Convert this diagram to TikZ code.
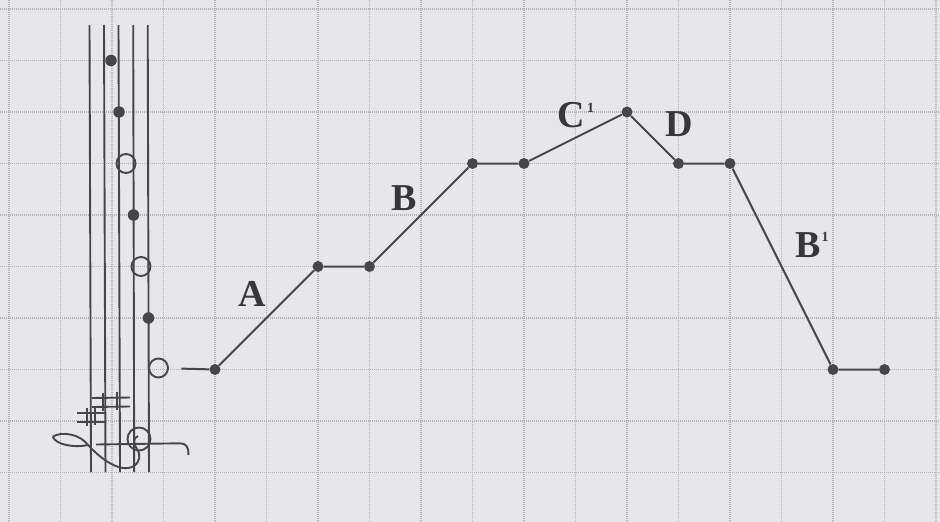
\documentclass[tikz,border=0pt]{standalone}
\usepackage{fontspec}
\setmainfont{Liberation Serif}
\definecolor{bg}{RGB}{231,231,233}
\definecolor{gridc}{RGB}{178,178,182}
\definecolor{ink}{RGB}{70,70,72}
\definecolor{txt}{RGB}{55,55,57}
\begin{document}
\begin{tikzpicture}[x=1pt,y=-1pt,
  gridline/.style={gridc, line width=1.1pt, dash pattern=on 1.2pt off 0.8pt},
  staffline/.style={ink, line width=1.9pt},
  dot/.style={circle, fill=ink, inner sep=0pt, minimum size=11pt},
  fullnote/.style={circle, fill=ink, inner sep=0pt, minimum size=11.5pt},
  opennote/.style={circle, draw=ink, line width=1.9pt, inner sep=0pt, minimum size=19pt},
  seg/.style={ink, line width=2pt},
  lab/.style={text=txt, font=\bfseries\fontsize{38}{38}\selectfont, inner sep=0pt},
  suplab/.style={font=\bfseries\fontsize{14}{14}\selectfont},
  clefline/.style={ink, line width=1.9pt},
  sharpbar/.style={ink, line width=2.8pt}]

\useasboundingbox (0,0) rectangle (940,522);
\fill[bg] (0,0) rectangle (940,522);

% grid
\foreach \i in {0,...,18} \draw[gridline] ({9+51.5*\i},0) -- ({9+51.5*\i},522);
\foreach \j in {0,...,9} \draw[gridline] (0,{9+51.5*\j}) -- (940,{9+51.5*\j});

% staff
\foreach \a/\b in {89.5/91, 104/105.5, 118.5/120, 133.2/134.2, 147.7/149}
  \draw[staffline] (\a,25) -- (\b,472);

% notes
\node[fullnote] (n1) at (111,60.5) {};
\node[fullnote] (n2) at (119,112) {};
\node[opennote] (n3) at (126,163.5) {};
\node[fullnote] (n4) at (133.5,215) {};
\node[opennote] (n5) at (141,266.5) {};
\node[fullnote] (n6) at (148.5,318) {};
\node[opennote] (n7) at (158.5,368) {};

% sharps
\draw[clefline] (92,398) -- (130,397.5) (92,407) -- (130,406.5);
\draw[sharpbar] (103,393) -- (103,411) (117,392) -- (117,410);
\draw[clefline] (77,413) -- (105,413) (77,422) -- (105,422);
\draw[sharpbar] (87,408) -- (87,426) (95,407) -- (95,425);

% treble clef (sideways)
\draw[clefline] (52.7,436.7) .. controls (62,431) and (80,434) .. (88,445)
  .. controls (100,458) and (120,474) .. (134,466)
  .. controls (140,462) and (141,454) .. (137,449);
\draw[clefline] (52.7,436.7) .. controls (56,445) and (75,448) .. (88,445);
\draw[clefline] (139,439) circle (11.5pt);
\draw[clefline] (137,449) .. controls (133,444) and (133,438) .. (138,436);
\draw[clefline] (96,444.5) -- (180,443.3) .. controls (186,443.3) and (189,447) .. (188.3,455);

% melody points
\foreach \n/\c/\r in {p1/4/7, p2/6/5, p3/7/5, p4/9/3, p5/10/3, p6/12/2, p7/13/3, p8/14/3, p9/16/7, p10/17/7}
  \node[dot] (\n) at ({9+51.5*\c},{9+51.5*\r}) {};

\draw[seg, shorten <=12.5pt] (n7) -- (p1);
\draw[seg] (p1) -- (p2) -- (p3) -- (p4) -- (p5) -- (p6) -- (p7) -- (p8) -- (p9) -- (p10);

% labels
\node[lab] (la) at (252.5,294) {A};
\node[lab] (lb) at (404,198) {B};
\node[lab] (lc) at (571.5,115.5) {C\rlap{\smash{\kern2pt\raisebox{15pt}{\usefont{TU}{\familydefault}{b}{n}\fontsize{14}{14}\selectfont 1}}}};
\node[lab] (ld) at (679.5,124.5) {D};
\node[lab] (lbb) at (808,245) {B\rlap{\smash{\kern1pt\raisebox{16pt}{\usefont{TU}{\familydefault}{b}{n}\fontsize{14}{14}\selectfont 1}}}};
\end{tikzpicture}
\end{document}
